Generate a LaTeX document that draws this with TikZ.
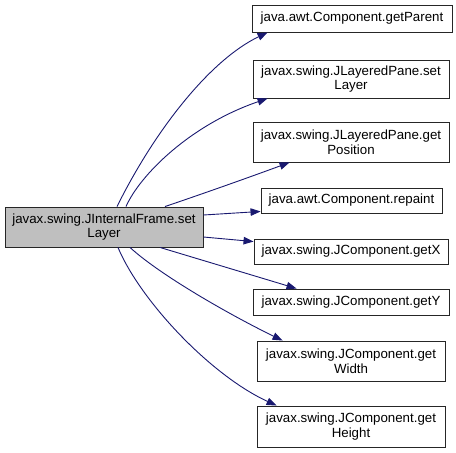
\documentclass[tikz,border=0pt]{standalone}
\usepackage{fontspec}
\setmainfont{Liberation Sans}
\usetikzlibrary{arrows.meta,calc}
\definecolor{edgeblue}{HTML}{191970}
\definecolor{boxgray}{HTML}{BFBFBF}
\tikzset{
  fbox/.style={draw=black!85, line width=0.9pt, fill=white, inner sep=0pt, align=center,
    font=\fontsize{13.3}{14.5}\selectfont},
  mainbox/.style={fbox, fill=boxgray},
  call/.style={draw=edgeblue, line width=0.9pt, -{Stealth[length=10pt,width=7.5pt,inset=0pt]}}
}
\begin{document}
\begin{tikzpicture}[x=1pt,y=-1pt]
\useasboundingbox (0,0) rectangle (456,453);
\node[mainbox, minimum width=198pt, minimum height=40pt] (m) at (104,227) {javax.swing.JInternalFrame.set\\Layer};
\node[fbox, minimum width=200pt, minimum height=27pt] (n1) at (352,18.5) {java.awt.Component.getParent};
\node[fbox, minimum width=196pt, minimum height=38pt] (n2) at (351,79) {javax.swing.JLayeredPane.set\\Layer};
\node[fbox, minimum width=196pt, minimum height=40pt] (n3) at (351,142) {javax.swing.JLayeredPane.get\\Position};
\node[fbox, minimum width=181pt, minimum height=25pt] (n4) at (351.5,200.5) {java.awt.Component.repaint};
\node[fbox, minimum width=194pt, minimum height=25pt] (n5) at (351,251.5) {javax.swing.JComponent.getX};
\node[fbox, minimum width=196pt, minimum height=26pt] (n6) at (351,302) {javax.swing.JComponent.getY};
\node[fbox, minimum width=188pt, minimum height=40pt] (n7) at (351,361) {javax.swing.JComponent.get\\Width};
\node[fbox, minimum width=188pt, minimum height=41pt] (n8) at (351,426.5) {javax.swing.JComponent.get\\Height};

\coordinate (s1) at ($(m.north)+(13,0)$);
\coordinate (s2) at ($(m.north)+(22,0)$);
\coordinate (s3) at ($(m.north)+(61,0)$);
\coordinate (s4) at ($(m.east)+(0,-12)$);
\coordinate (s5) at ($(m.east)+(0,10)$);
\coordinate (s6) at ($(m.south)+(56,0)$);
\coordinate (s7) at ($(m.south)+(26,0)$);
\coordinate (s8) at ($(m.south)+(14,0)$);

\draw[call] (s1) .. controls (155,130) and (210,60) .. ($(n1.south west)+(16,0)$);
\draw[call] (s2) .. controls (140,175) and (190,125) .. ($(n2.south west)+(15,0)$);
\draw[call] (s3) .. controls (205,193) and (250,177) .. ($(n3.south west)+(37,0)$);
\draw[call] (s4) -- ($(n4.south west)+(0,-2)$);
\draw[call] (s5) -- ($(n5.north west)+(0,3)$);
\draw[call] (s6) .. controls (205,261) and (255,276) .. ($(n6.north west)+(44,0)$);
\draw[call] (s7) .. controls (160,275) and (230,315) .. ($(n7.north west)+(26,0)$);
\draw[call] (s8) .. controls (140,300) and (210,375) .. ($(n8.north west)+(20,0)$);
\end{tikzpicture}
\end{document}
